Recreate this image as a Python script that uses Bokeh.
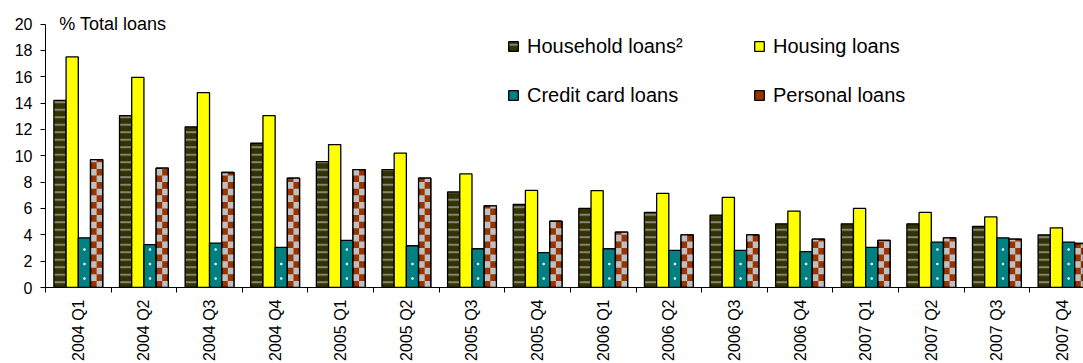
import numpy as np
from bokeh.plotting import figure
from bokeh.models import (Range1d, FixedTicker, Legend, LegendItem, Label,
                          ColumnDataSource)
from bokeh.embed import file_html
from bokeh.resources import INLINE

quarters = ["2004 Q1", "2004 Q2", "2004 Q3", "2004 Q4",
            "2005 Q1", "2005 Q2", "2005 Q3", "2005 Q4",
            "2006 Q1", "2006 Q2", "2006 Q3", "2006 Q4",
            "2007 Q1", "2007 Q2", "2007 Q3", "2007 Q4"]
household = [14.2, 13.05, 12.2, 10.95, 9.55, 8.95, 7.25, 6.3,
             6.0, 5.7, 5.5, 4.83, 4.83, 4.83, 4.63, 4.0]
housing = [17.5, 15.95, 14.8, 13.05, 10.85, 10.2, 8.62, 7.37,
           7.35, 7.15, 6.84, 5.8, 6.0, 5.7, 5.36, 4.53]
credit_card = [3.77, 3.25, 3.37, 3.04, 3.57, 3.17, 2.94, 2.64,
               2.94, 2.82, 2.82, 2.72, 3.04, 3.45, 3.77, 3.45]
personal = [9.7, 9.06, 8.73, 8.3, 8.95, 8.3, 6.2, 5.03,
            4.2, 4.0, 4.0, 3.67, 3.57, 3.77, 3.67, 3.34]
y_ticks = [0, 2, 4, 6, 8, 10, 12, 14, 16, 18, 20]

FONT = "Liberation Sans"
n = len(quarters)
centers = np.arange(n) + 0.5
bw = 0.186

p = figure(width=1083, height=363, output_backend="svg", toolbar_location=None,
           x_range=Range1d(0, 15.82), y_range=Range1d(0, 20.8),
           min_border_left=45, min_border_top=13, min_border_right=0,
           min_border_bottom=60)
p.outline_line_color = None
p.xgrid.visible = False
p.ygrid.visible = False
p.background_fill_color = "white"

def bars(vals, k, **kw):
    src = ColumnDataSource(dict(x=centers + (k - 1.5) * bw, top=vals))
    return p.vbar(x="x", top="top", bottom=0, width=bw, source=src, **kw)

r_hh = bars(household, 0, fill_color="#333300", line_color="black", line_width=1.3,
            hatch_pattern="-", hatch_color="#85857a", hatch_scale=7.5, hatch_weight=2)
r_hs = bars(housing, 1, fill_color="#FFFF00", line_color="black", line_width=1.3)
r_cc = bars(credit_card, 2, fill_color="#008080", line_color="black", line_width=1.3)
r_pl = bars(personal, 3, fill_color="#993300", line_color="black", line_width=1.3)

# white dots on credit card bars
dx, dy = [], []
for i, v in enumerate(credit_card):
    yy = 0.68
    while yy < v - 0.3:
        dx.append(centers[i] + 0.5 * bw)
        dy.append(yy)
        yy += 1.1
p.scatter(dx, dy, size=2.5, marker="circle", fill_color="white", line_color=None)

# checkerboard squares for personal loans
sq_h = 0.5
L, R, B, T = [], [], [], []
for i, v in enumerate(personal):
    x0 = centers[i] + 1.5 * bw - bw / 2
    rows = int(np.ceil(v / sq_h))
    for r in range(rows):
        for c in range(2):
            if (r + c) % 2 == 1:
                L.append(x0 + c * bw / 2)
                R.append(x0 + (c + 1) * bw / 2)
                B.append(r * sq_h)
                T.append(min((r + 1) * sq_h, v))
p.quad(left=L, right=R, bottom=B, top=T, fill_color="#C0C0C0", line_color=None)
bars(personal, 3, fill_color=None, line_color="black", line_width=1.3)

# axes
p.yaxis.bounds = (0, 20)
p.yaxis.ticker = FixedTicker(ticks=y_ticks)
p.yaxis.major_tick_out = 5
p.yaxis.major_tick_in = 0
p.yaxis.minor_tick_out = 0
p.yaxis.minor_tick_in = 0
p.yaxis.major_label_standoff = 8
p.yaxis.major_label_text_font = FONT
p.yaxis.major_label_text_font_size = "16px"
p.yaxis.major_label_text_color = "black"
p.yaxis.axis_line_color = "black"
p.yaxis.major_tick_line_color = "black"

p.xaxis.ticker = FixedTicker(ticks=list(centers), minor_ticks=list(np.arange(n + 1)))
p.xaxis.major_label_overrides = {float(c): q for c, q in zip(centers, quarters)}
p.xaxis.major_tick_out = 0
p.xaxis.major_tick_in = 0
p.xaxis.minor_tick_out = 5
p.xaxis.minor_tick_in = 0
p.xaxis.minor_tick_line_color = "black"
p.xaxis.major_label_orientation = np.pi / 2
p.xaxis.major_label_standoff = 7
p.xaxis.major_label_text_font = FONT
p.xaxis.major_label_text_font_size = "16px"
p.xaxis.major_label_text_color = "black"
p.xaxis.axis_line_color = "black"

p.add_layout(Label(x=0.21, y=20, text="% Total loans", text_font=FONT,
                   text_font_size="18px", text_baseline="middle", text_color="black"))

def mk_legend(items, x, y):
    lg = Legend(items=items, location=(x, y), orientation="vertical",
                label_text_font=FONT, label_text_font_size="20px",
                label_text_color="black", glyph_width=12, glyph_height=12,
                label_standoff=8, spacing=25, label_height=24, padding=0,
                margin=0, border_line_color=None, background_fill_alpha=0)
    p.add_layout(lg, "center")

mk_legend([LegendItem(label="Household loans²", renderers=[r_hh]),
           LegendItem(label="Credit card loans", renderers=[r_cc])], 462, 180)
mk_legend([LegendItem(label="Housing loans", renderers=[r_hs]),
           LegendItem(label="Personal loans", renderers=[r_pl])], 708, 180)

open("out.html", "w").write(file_html(p, INLINE))
